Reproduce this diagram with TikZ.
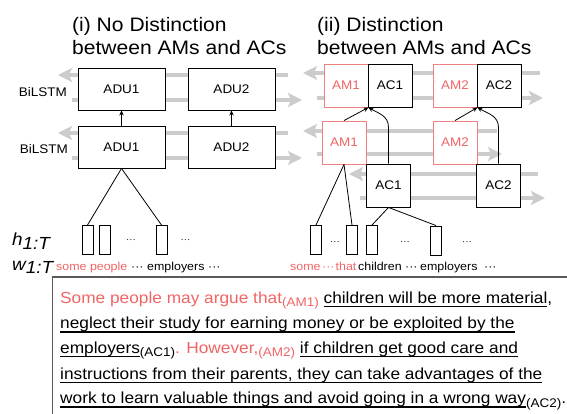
\documentclass[tikz,border=0pt]{standalone}
\usepackage{fontspec}
\setmainfont{Liberation Sans}[FakeStretch=1.08]
\usetikzlibrary{arrows.meta}
\definecolor{amred}{RGB}{240,100,100}
\definecolor{amborder}{RGB}{240,128,128}
\definecolor{lgray}{RGB}{204,204,204}
\definecolor{boxgray}{RGB}{90,90,90}
\newcommand\myfs[1]{\fontsize{#1}{#1}\selectfont}
\newcommand\myul[1]{\setbox0\hbox{#1}\rlap{\rule[-4.2pt]{\wd0}{1.6pt}}\box0}
\newcommand\mysub[1]{\raisebox{-3.5pt}{\myfs{12.5}#1}}
\begin{document}
\begin{tikzpicture}[x=1pt,y=-1pt,
  box/.style={draw=black, line width=0.9pt, fill=white, minimum width=87pt, minimum height=42pt, inner sep=0pt, font=\myfs{12.5}},
  acbox/.style={box, minimum width=44pt, minimum height=43pt},
  ambox/.style={acbox, draw=amborder, text=amred},
  hvec/.style={draw=black, line width=0.9pt, fill=white, minimum width=11pt, minimum height=29pt, inner sep=0pt},
  garrow/.style={draw=lgray, line width=3.5pt, -{Stealth[length=14pt,width=14pt,inset=3pt]}},
  conn/.style={draw=black, line width=0.8pt},
  aconn/.style={conn, -{Stealth[length=5pt,width=4.5pt]}},
  lbl/.style={inner sep=0pt, anchor=base west},
  title/.style={lbl, font=\myfs{19.5}},
  word/.style={lbl, font=\myfs{11.5}},
  hdots/.style={inner sep=0pt, font=\myfs{9}},
  para/.style={lbl, font=\myfs{16}},
  vlabel/.style={lbl, font=\myfs{17.5}\itshape}
]
\useasboundingbox (0,0) rectangle (567,414);

% titles
\node[title] (t1a) at (72,32) {(i) No Distinction};
\node[title] (t1b) at (72,55) {between AMs and ACs};
\node[title] (t2a) at (317,32) {(ii) Distinction};
\node[title] (t2b) at (317,55) {between AMs and ACs};

% BiLSTM labels
\node[inner sep=0pt, anchor=base east, font=\myfs{12.5}] (bl1) at (67,97) {BiLSTM};
\node[inner sep=0pt, anchor=base east, font=\myfs{12.5}] (bl2) at (68,154) {BiLSTM};

% gray BiLSTM arrows
\foreach \n/\xa/\xb/\y in {1/288/58/75, 2/72/302/100, 3/288/58/133, 4/72/302/158,
  5/540/303/73, 6/317/543/98, 7/497/303/131, 8/317/502/154, 9/538/349/174, 10/360/545/198}{
  \coordinate (ga\n) at (\xa,\y);
  \coordinate (gb\n) at (\xb,\y);
  \draw[garrow] (ga\n) -- (gb\n);
}

% left panel boxes
\node[box] (adu1t) at (121.5,89) {ADU1};
\node[box] (adu2t) at (231.5,89) {ADU2};
\node[box] (adu1b) at (121.5,147) {ADU1};
\node[box] (adu2b) at (231.5,147) {ADU2};
\draw[aconn] (adu1b.north) -- (adu1t.south);
\draw[aconn] (adu2b.north) -- (adu2t.south);

% right panel boxes
\node[ambox] (am1t) at (346,85.5) {AM1};
\node[acbox] (ac1t) at (390,85.5) {AC1};
\node[ambox] (am2t) at (455,85.5) {AM2};
\node[acbox] (ac2t) at (499,85.5) {AC2};
\node[ambox] (am1m) at (344,142.5) {AM1};
\node[ambox] (am2m) at (455,142.5) {AM2};
\node[acbox] (ac1b) at (388.5,185.5) {AC1};
\node[acbox] (ac2b) at (498.5,185.5) {AC2};

\draw[aconn] (am1m.north) -- (am1t.south east);
\draw[aconn] (ac1b.north) -- ++(0,-36) .. controls +(0,-12) and +(10,6) .. (am1t.south east);
\draw[aconn] (am2m.north) -- (am2t.south east);
\draw[aconn] (ac2b.north) -- ++(0,-36) .. controls +(0,-12) and +(10,6) .. (am2t.south east);

% h vectors left
\node[hvec] (lr1) at (87.5,240) {};
\node[hvec] (lr2) at (104.5,240) {};
\node[hvec] (lr3) at (161.5,240) {};
\node[hdots] (lhd1) at (131,241) {···};
\node[hdots] (lhd2) at (185.5,241) {···};
\draw[conn] (adu1b.south) -- (lr1.north);
\draw[conn] (adu1b.south) -- (lr3.north);

% h vectors right
\node[hvec] (rr1) at (316,240) {};
\node[hvec] (rr2) at (352,240) {};
\node[hvec] (rr3) at (372,240) {};
\node[hvec] (rr4) at (436,240.5) {};
\node[hdots] (rhd1) at (335,243) {···};
\node[hdots] (rhd2) at (405,243) {···};
\node[hdots] (rhd3) at (467,243) {···};
\draw[conn] (am1m.south) -- (rr1.north);
\draw[conn] (am1m.south) -- (rr2.north);
\draw[conn] (ac1b.south) -- (rr3.north);
\draw[conn] (ac1b.south) -- (rr4.north);

% h and w labels
\node[vlabel] (hlab) at (12,245) {h\raisebox{-4pt}{1:T}};
\node[vlabel] (wlab) at (12,270) {w\raisebox{-3pt}{1:T}};

% words left
\node[word, text=amred] (lw1) at (56,270) {some people};
\node[word] (lw2) at (131,270) {···};
\node[word] (lw3) at (147,270) {employers};
\node[word] (lw4) at (208,270) {···};

% words right
\node[word, text=amred] (rw1) at (290,270) {some};
\node[word, text=amred] (rw2) at (322,270) {···};
\node[word, text=amred] (rw3) at (335.5,270) {that};
\node[word] (rw4) at (358,270) {children};
\node[word] (rw5) at (405,270) {···};
\node[word] (rw6) at (420,270) {employers};
\node[word] (rw7) at (484,270) {···};

% text box
\draw[draw=boxgray, line width=1.2pt] (52.5,430) -- (52.5,277) -- (580,277);

% paragraph
\node[para] (p1) at (60,303) {\textcolor{amred}{Some people may argue that\mysub{(AM1)}} \myul{children will be more material},};
\node[para] (p2) at (60,328.5) {\myul{neglect their study for earning money or be exploited by the}};
\node[para] (p3) at (60,353) {\myul{employers}\mysub{(AC1)}\textcolor{amred}{. However,\mysub{(AM2)}} \myul{if children get good care and}};
\node[para] (p4) at (60,379) {\myul{instructions from their parents, they can take advantages of the}};
\node[para] (p5) at (60,403.5) {\myul{work to learn valuable things and avoid going in a wrong way}\mysub{(AC2)}.};
\end{tikzpicture}
\end{document}
